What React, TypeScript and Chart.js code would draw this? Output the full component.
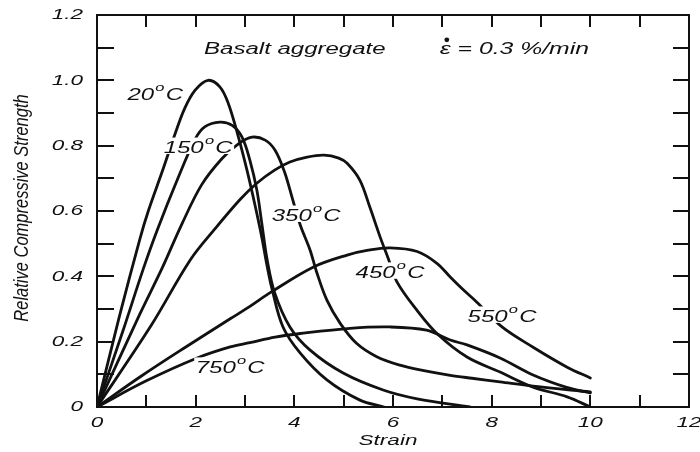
import React, { useEffect, useRef } from "react";
import { Chart, registerables } from "chart.js";

Chart.register(...registerables);

// ---- Data (strain in %, relative compressive strength) ----
const t20Strain = [0, 0.45, 0.87, 1.04, 1.32, 1.58, 1.78, 1.99, 2.25, 2.49, 2.66, 2.86, 3.04, 3.2, 3.34, 3.45, 3.55, 3.77, 4.12, 4.66, 5.33, 5.82];
const t20Strength = [0, 0.275, 0.515, 0.6, 0.72, 0.835, 0.915, 0.97, 1.0, 0.98, 0.93, 0.83, 0.725, 0.62, 0.52, 0.43, 0.36, 0.245, 0.165, 0.083, 0.021, 0];

const t150Strain = [0, 0.53, 0.93, 1.22, 1.64, 1.99, 2.19, 2.49, 2.74, 2.94, 3.1, 3.24, 3.34, 3.45, 3.6, 3.91, 4.32, 4.99, 5.8, 6.49, 7.56];
const t150Strength = [0, 0.235, 0.419, 0.541, 0.7, 0.82, 0.858, 0.872, 0.862, 0.826, 0.755, 0.664, 0.563, 0.45, 0.35, 0.245, 0.174, 0.104, 0.052, 0.025, 0];

const t350Strain = [0, 0.87, 1.32, 1.72, 2.12, 2.53, 2.86, 3.14, 3.41, 3.61, 3.8, 3.97, 4.12, 4.32, 4.45, 4.66, 4.93, 5.26, 5.67, 6.14, 6.6, 7.16, 7.6, 8.17, 8.84, 10];
const t350Strength = [0, 0.285, 0.425, 0.56, 0.68, 0.76, 0.805, 0.826, 0.817, 0.786, 0.72, 0.633, 0.557, 0.48, 0.414, 0.327, 0.256, 0.195, 0.154, 0.128, 0.112, 0.097, 0.088, 0.077, 0.064, 0.046];

const t450Strain = [0, 1.1, 1.89, 2.39, 2.9, 3.24, 3.6, 3.91, 4.26, 4.6, 4.9, 5.07, 5.33, 5.53, 5.74, 5.9, 6.08, 6.48, 6.89, 7.5, 8.17, 8.84, 9.53, 10];
const t450Strength = [0, 0.25, 0.45, 0.545, 0.635, 0.685, 0.725, 0.75, 0.765, 0.771, 0.762, 0.746, 0.694, 0.612, 0.52, 0.456, 0.383, 0.297, 0.225, 0.153, 0.107, 0.061, 0.031, 0];

const t550Strain = [0, 0.9, 1.76, 2.7, 3.1, 3.51, 4.38, 5.07, 5.5, 5.94, 6.49, 6.89, 7.16, 7.43, 7.7, 8.21, 8.84, 9.53, 10];
const t550Strength = [0, 0.095, 0.18, 0.27, 0.308, 0.35, 0.428, 0.465, 0.48, 0.487, 0.476, 0.44, 0.398, 0.358, 0.321, 0.245, 0.183, 0.122, 0.089];

const t750Strain = [0, 1.0, 2.03, 2.7, 3.1, 3.61, 4.12, 5.13, 5.94, 6.68, 7.16, 7.5, 8.17, 8.84, 9.52, 10];
const t750Strength = [0, 0.08, 0.15, 0.184, 0.197, 0.214, 0.225, 0.241, 0.245, 0.235, 0.205, 0.19, 0.15, 0.098, 0.06, 0.043];

const seriesNames = ["20", "150", "350", "450", "550", "750"];
const seriesStrain = [t20Strain, t150Strain, t350Strain, t450Strain, t550Strain, t750Strain];
const seriesStrength = [t20Strength, t150Strength, t350Strength, t450Strength, t550Strength, t750Strength];

// curve label anchors (data coordinates, centre of the digits)
const labelStrain = [1.18, 2.05, 4.24, 5.94, 8.21, 2.7];
const labelStrength = [0.956, 0.795, 0.587, 0.413, 0.278, 0.122];

// axes
const xTickValues = [0, 1, 2, 3, 4, 5, 6, 7, 8, 9, 10, 11, 12];
const xLabelValues = [0, 2, 4, 6, 8, 10, 12];
const xLabelText = ["0", "2", "4", "6", "8", "10", "12"];
const yTickValues = [0, 0.1, 0.2, 0.3, 0.4, 0.5, 0.6, 0.7, 0.8, 0.9, 1.0, 1.1, 1.2];
const yLabelValues = [0, 0.2, 0.4, 0.6, 0.8, 1.0, 1.2];
const yLabelText = ["0", "0.2", "0.4", "0.6", "0.8", "1.0", "1.2"];

const xTitle = "Strain";
const yTitle = "Relative Compressive Strength";
const headerLeft = "Basalt aggregate";
const headerRight = "ε = 0.3 %/min";
const headerLeftPos = [4.01, 1.095];
const headerRightPos = [6.95, 1.095];

const FONT = '"Liberation Sans", Arial, Helvetica, sans-serif';
const SX = 1.5;
const INK = "#111";

function stretchedText(ctx: CanvasRenderingContext2D, text: string, x: number, y: number, align: CanvasTextAlign, size: number, base: CanvasTextBaseline = "middle") {
  ctx.save();
  ctx.translate(x, y);
  ctx.scale(SX, 1);
  ctx.font = `italic ${size}px ${FONT}`;
  ctx.textAlign = align;
  ctx.textBaseline = base;
  ctx.fillStyle = INK;
  ctx.fillText(text, 0, 0);
  ctx.restore();
}

function tempLabel(ctx: CanvasRenderingContext2D, num: string, cx: number, cy: number, size: number) {
  const main = `italic ${size}px ${FONT}`;
  const small = `italic ${Math.round(size * 0.7)}px ${FONT}`;
  ctx.save();
  ctx.font = main;
  const wn = ctx.measureText(num).width;
  const wc = ctx.measureText("C").width;
  ctx.font = small;
  const wo = ctx.measureText("o").width;
  const gap = size * 0.05;
  const total = wn + gap + wo + gap + wc;
  const cap = size * 0.716;
  ctx.translate(cx, cy);
  ctx.scale(SX, 1);
  const x0 = -total / 2;
  ctx.fillStyle = "#fff";
  ctx.fillRect(x0 - 1, -cap / 2 - 4, total + 2, cap + 5);
  ctx.fillStyle = INK;
  ctx.textAlign = "left";
  ctx.textBaseline = "alphabetic";
  ctx.font = main;
  ctx.fillText(num, x0, cap / 2);
  ctx.font = small;
  ctx.fillText("o", x0 + wn + gap, cap / 2 - cap * 0.78);
  ctx.font = main;
  ctx.fillText("C", x0 + wn + gap + wo + gap, cap / 2);
  ctx.restore();
}

const decorPlugin = {
  id: "decor",
  afterDatasetsDraw(chart: any) {
    const { ctx, chartArea: a, scales } = chart;
    const xs = scales.x;
    const ys = scales.y;
    ctx.save();

    // curve labels
    seriesNames.forEach((n, i) => {
      tempLabel(ctx, n, xs.getPixelForValue(labelStrain[i]), ys.getPixelForValue(labelStrength[i]), 16);
    });

    // frame
    ctx.strokeStyle = INK;
    ctx.lineWidth = 2;
    ctx.strokeRect(a.left, a.top, a.right - a.left, a.bottom - a.top);

    // inward ticks
    ctx.beginPath();
    xTickValues.forEach((v) => {
      const px = Math.round(xs.getPixelForValue(v));
      ctx.moveTo(px, a.bottom);
      ctx.lineTo(px, a.bottom - 12);
      ctx.moveTo(px, a.top);
      ctx.lineTo(px, a.top + 12);
    });
    yTickValues.forEach((v) => {
      const py = Math.round(ys.getPixelForValue(v));
      ctx.moveTo(a.left, py);
      ctx.lineTo(a.left + 17, py);
      ctx.moveTo(a.right, py);
      ctx.lineTo(a.right - 16, py);
    });
    ctx.stroke();

    // tick labels
    xLabelValues.forEach((v, i) => {
      stretchedText(ctx, xLabelText[i], xs.getPixelForValue(v), a.bottom + 16, "center", 15);
    });
    yLabelValues.forEach((v, i) => {
      stretchedText(ctx, yLabelText[i], a.left - 14, ys.getPixelForValue(v), "right", 15);
    });

    // axis titles
    stretchedText(ctx, xTitle, (a.left + a.right) / 2 - 5, a.bottom + 34, "center", 15);
    ctx.save();
    ctx.translate(22, (a.top + a.bottom) / 2 - 3);
    ctx.rotate(-Math.PI / 2);
    ctx.scale(1, 1.25);
    ctx.font = `italic 16.5px ${FONT}`;
    ctx.textAlign = "center";
    ctx.textBaseline = "middle";
    ctx.fillStyle = INK;
    ctx.fillText(yTitle, 0, 0);
    ctx.restore();

    // header texts
    stretchedText(ctx, headerLeft, xs.getPixelForValue(headerLeftPos[0]), ys.getPixelForValue(headerLeftPos[1]), "center", 16);
    const hx = xs.getPixelForValue(headerRightPos[0]);
    const hy = ys.getPixelForValue(headerRightPos[1]);
    stretchedText(ctx, headerRight, hx, hy, "left", 16.5);
    ctx.font = `italic 16.5px ${FONT}`;
    const we = ctx.measureText("ε").width * SX;
    ctx.beginPath();
    ctx.fillStyle = INK;
    ctx.arc(hx + we / 2 + 1.5, hy - 9.5, 2.4, 0, Math.PI * 2);
    ctx.fill();

    ctx.restore();
  },
};

export default function App() {
  const ref = useRef<HTMLCanvasElement | null>(null);
  useEffect(() => {
    document.body.style.margin = "0";
    const canvas = ref.current;
    if (!canvas) return;
    const datasets = seriesNames.map((n, i) => ({
      label: `${n}°C`,
      data: seriesStrain[i].map((v, j) => ({ x: v, y: seriesStrength[i][j] })),
      borderColor: INK,
      borderWidth: 2.8,
      pointRadius: 0,
      fill: false,
      tension: 0.35,
      borderCapStyle: "round" as const,
      borderJoinStyle: "round" as const,
    }));
    const chart = new Chart(canvas, {
      type: "line",
      data: { datasets },
      options: {
        animation: false,
        responsive: false,
        maintainAspectRatio: false,
        events: [],
        layout: { padding: { left: 97, right: 11, top: 15, bottom: 45 } },
        scales: {
          x: { type: "linear", min: 0, max: 12, display: false },
          y: { type: "linear", min: 0, max: 1.2, display: false },
        },
        plugins: { legend: { display: false }, tooltip: { enabled: false } },
      },
      plugins: [decorPlugin],
    });
    return () => chart.destroy();
  }, []);
  return (
    <div style={{ width: 700, height: 452, background: "#fff" }}>
      <canvas ref={ref} width={700} height={452} style={{ display: "block" }} />
    </div>
  );
}
